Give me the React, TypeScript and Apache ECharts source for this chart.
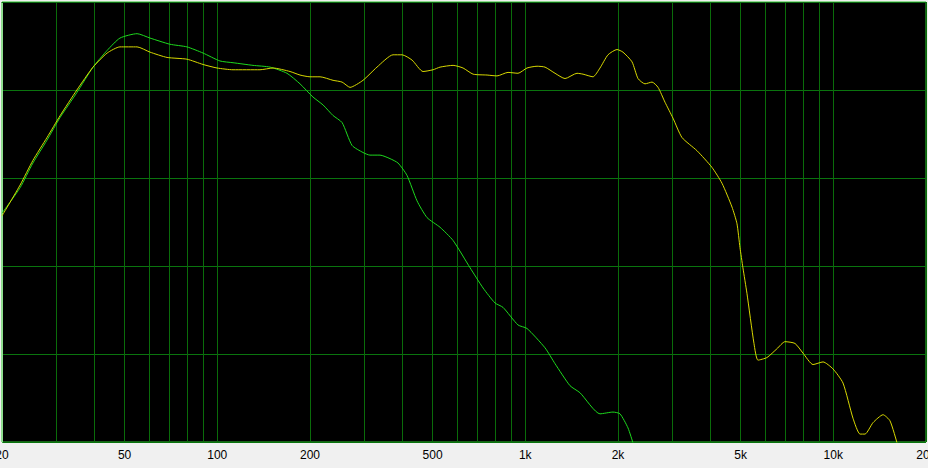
import React, { useEffect, useRef } from "react";
import * as echarts from "echarts";

const yellowFreq = [20, 20.8, 22.9, 25.2, 28.0, 30.9, 35.0, 39.5, 43.9, 48.3, 54.9, 60.5, 68.7, 79.7, 89.9, 99.8, 112.5, 137.6, 151.7, 172.3, 185.6, 200, 215.6, 237.6, 254.2, 269.8, 297.2, 330, 372.1, 398, 428.9, 465.6, 501.9, 528.8, 582.8, 628, 676.9, 751.5, 809.4, 878.9, 947, 1013, 1092, 1159, 1249, 1346, 1472, 1540, 1659, 1748, 1856, 1985, 2076, 2221, 2323, 2447, 2580, 2698, 2843, 3017, 3227, 3610, 4039, 4352, 4690, 4868, 4978, 5089, 5244, 5527, 5695, 6093, 6565, 6970, 7511, 7974, 8595, 9263, 9981, 10754, 11588, 12212, 12677, 13460, 14505, 15284, 16103];
const yellowDb = [-24.3, -23.3, -20.8, -18.0, -15.4, -12.9, -10.0, -7.4, -5.8, -5.1, -5.1, -5.7, -6.3, -6.5, -7.1, -7.5, -7.7, -7.7, -7.5, -7.9, -8.3, -8.5, -8.5, -8.9, -9.1, -9.7, -8.9, -7.4, -6.0, -6.0, -6.6, -7.9, -7.7, -7.4, -7.2, -7.5, -8.2, -8.3, -8.4, -8.0, -8.1, -7.5, -7.3, -7.4, -8.1, -8.7, -8.1, -8.2, -8.5, -7.5, -6.0, -5.4, -5.7, -6.8, -8.7, -9.3, -9.1, -9.7, -11.4, -13.2, -15.4, -16.9, -18.8, -20.6, -23.3, -25.2, -27.9, -30.2, -33.1, -38.8, -40.7, -40.4, -39.4, -38.6, -38.8, -39.9, -41.2, -40.9, -41.7, -43.3, -47.3, -49.1, -49.1, -47.8, -46.9, -47.6, -50.1];

const greenFreq = [20, 22.9, 25.2, 28, 30.9, 35, 39.5, 43.9, 48.3, 54.9, 60.5, 70.2, 79.7, 89.9, 102, 112.5, 130.6, 148.4, 168.4, 185.6, 204.5, 220.5, 237.6, 254.2, 273.9, 297.2, 313.1, 337.6, 363.8, 386.3, 413, 445.2, 479.8, 528.8, 582.8, 661.8, 729.4, 797.4, 846.5, 947, 1013, 1159, 1249, 1397, 1505, 1748, 1926, 2030, 2155, 2237];
const greenDb = [-24, -21.1, -18.3, -15.7, -13.1, -10.3, -7.4, -5.5, -4.1, -3.6, -4.1, -4.8, -5.1, -5.8, -6.7, -6.9, -7.2, -7.4, -8.1, -9.3, -10.8, -11.7, -12.9, -13.7, -16.3, -17.1, -17.4, -17.4, -17.8, -18.3, -19.7, -22.6, -24.5, -25.6, -27.1, -30.2, -32.5, -34.2, -34.7, -36.7, -37.1, -39.3, -41.1, -43.6, -44.4, -46.8, -46.6, -46.8, -48.4, -50.1];

const tickLabels = [20, 50, 100, 200, 500, 1000, 2000, 5000, 10000, 20000];
const gridFreqs = [20, 30, 40, 50, 60, 70, 80, 90, 100, 200, 300, 400, 500, 600, 700, 800, 900, 1000, 2000, 3000, 4000, 5000, 6000, 7000, 8000, 9000, 10000, 20000];

export default function App() {
  const ref = useRef<HTMLDivElement>(null);
  useEffect(() => {
    if (!ref.current) return;
    const chart = echarts.init(ref.current, undefined, { renderer: "svg" });
    const pair = (f: number[], v: number[]) => f.map((x, i) => [x, v[i]]);
    chart.setOption({
      animation: false,
      backgroundColor: "#f0f0f0",
      grid: {
        left: 2,
        right: 2,
        top: 2,
        bottom: 26,
        outerBoundsMode: "none",
        containLabel: false,
        show: true,
        backgroundColor: "#000000",
        borderColor: "#2fc42f",
        borderWidth: 1,
      },
      xAxis: {
        type: "log",
        logBase: 10,
        min: 20,
        max: 20000,
        axisLine: { show: true, lineStyle: { color: "#0c6a12", width: 1 } },
        axisTick: { show: false, customValues: gridFreqs },
        splitLine: { show: true, lineStyle: { color: "#0a6c0a", width: 1 } },
        axisLabel: {
          customValues: tickLabels,
          color: "#000",
          fontFamily: "Liberation Sans, Arial, sans-serif",
          fontSize: 12,
          margin: 7,
          showMinLabel: true,
          showMaxLabel: true,
          hideOverlap: false,
          formatter: (v: number) => (v >= 1000 ? v / 1000 + "k" : String(v)),
        },
      },
      yAxis: {
        type: "value",
        min: -50,
        max: 0,
        interval: 10,
        axisLine: { show: true, lineStyle: { color: "#8fe08f" } },
        axisTick: { show: false },
        axisLabel: { show: false },
        splitLine: { show: true, lineStyle: { color: "#0a740e", width: 1 } },
      },
      series: [
        {
          type: "line",
          data: pair(greenFreq, greenDb),
          showSymbol: false,
          smooth: 0.2,
          clip: true,
          lineStyle: { color: "#1ed81e", width: 1 },
        },
        {
          type: "line",
          data: pair(yellowFreq, yellowDb),
          showSymbol: false,
          smooth: 0.2,
          clip: true,
          lineStyle: { color: "#d8d800", width: 1 },
        },
      ],
    });
    return () => chart.dispose();
  }, []);
  return (
    <div
      ref={ref}
      style={{ position: "absolute", left: 0, top: 0, width: 928, height: 468 }}
    />
  );
}
